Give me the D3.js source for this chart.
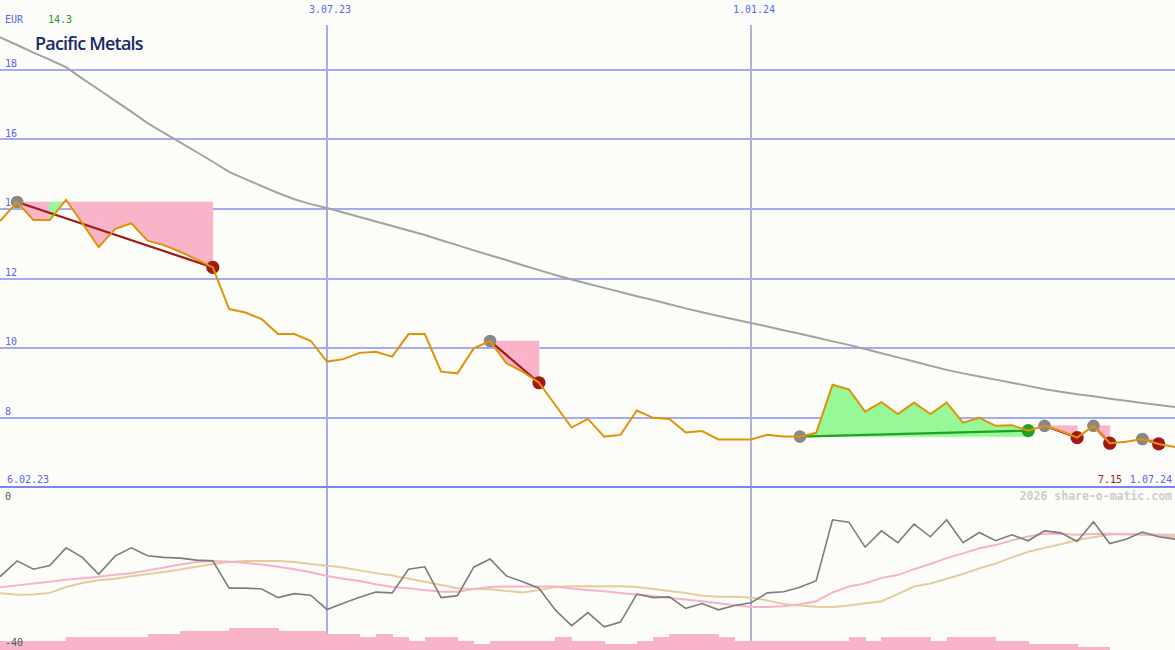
<!DOCTYPE html>
<html><head><meta charset="utf-8">
<script src="https://cdn.jsdelivr.net/npm/d3@7"></script>
<style>html,body{margin:0;padding:0;background:#fcfdf9;} svg{display:block}</style>
</head><body><svg id="c" width="1175" height="650"></svg>
<script>
// ---- data (weekly, first week 6.02.23) ----
const startDate = "2023-02-06";
const price = [13.5, 13.68, 14.2, 13.68, 13.68, 14.26, 13.59, 12.90, 13.42, 13.59,
  13.09, 12.96, 12.77, 12.55, 12.32, 11.12, 11.02, 10.83, 10.40, 10.40,
  10.21, 9.61, 9.68, 9.86, 9.89, 9.75, 10.40, 10.40, 9.32, 9.27,
  9.99, 10.20, 9.56, 9.32, 9.00, 8.36, 7.71, 7.96, 7.45, 7.50,
  8.20, 7.99, 7.96, 7.57, 7.61, 7.37, 7.37, 7.37, 7.50, 7.45,
  7.45, 7.56, 8.94, 8.81, 8.17, 8.44, 8.10, 8.43, 8.10, 8.43,
  7.85, 7.99, 7.76, 7.78, 7.62, 7.76, 7.61, 7.42, 7.76, 7.26,
  7.30, 7.38, 7.24, 7.15];
const ma200 = [19.2, 18.93, 18.72, 18.50, 18.30, 18.08, 17.75, 17.44, 17.12, 16.80,
  16.47, 16.19, 15.92, 15.64, 15.36, 15.07, 14.86, 14.66, 14.46, 14.28,
  14.14, 14.03, 13.90, 13.77, 13.64, 13.51, 13.38, 13.25, 13.10, 12.96,
  12.81, 12.67, 12.53, 12.38, 12.24, 12.10, 11.97, 11.85, 11.73, 11.61,
  11.49, 11.38, 11.26, 11.14, 11.03, 10.92, 10.82, 10.72, 10.62, 10.51,
  10.41, 10.30, 10.19, 10.09, 9.97, 9.85, 9.73, 9.61, 9.49, 9.37,
  9.27, 9.18, 9.09, 9.00, 8.91, 8.81, 8.74, 8.67, 8.61, 8.54,
  8.48, 8.42, 8.36, 8.30];
const osc = [-23.0, -22.0, -18.2, -20.3, -19.4, -14.9, -17.3, -21.6, -17.0, -14.9,
  -16.9, -17.3, -17.5, -18.0, -18.2, -25.1, -25.1, -25.3, -27.5, -26.5,
  -26.9, -30.5, -28.9, -27.4, -26.1, -26.3, -20.3, -19.7, -27.5, -27.0,
  -19.8, -17.7, -22.0, -23.5, -25.1, -30.6, -34.6, -31.3, -34.9, -33.7,
  -26.6, -27.5, -27.3, -30.2, -29.0, -30.6, -29.5, -28.8, -26.3, -26.0,
  -24.9, -23.2, -7.8, -8.4, -14.7, -10.6, -13.6, -8.9, -12.1, -7.8,
  -13.6, -11.0, -13.1, -11.6, -13.1, -10.6, -11.1, -13.3, -8.3, -13.8,
  -12.7, -10.9, -12.1, -12.7];
const oscPink = [-25.3, -24.9, -24.4, -23.9, -23.5, -23.0, -22.6, -22.2, -21.7, -21.3,
  -20.6, -19.9, -19.1, -18.5, -18.2, -18.4, -18.7, -19.1, -19.7, -20.3,
  -21.1, -22.0, -22.7, -23.3, -24.1, -24.8, -25.1, -25.6, -26.0, -26.0,
  -25.3, -24.8, -24.7, -24.7, -24.7, -24.7, -25.2, -25.6, -25.9, -26.3,
  -26.7, -27.1, -27.6, -28.0, -28.4, -28.9, -29.4, -29.9, -29.9, -29.7,
  -29.2, -28.4, -26.2, -24.7, -23.9, -22.5, -21.8, -20.3, -19.0, -17.5,
  -16.3, -15.0, -14.2, -13.0, -12.0, -11.3, -11.4, -11.6, -11.4, -11.3,
  -11.5, -11.6, -11.8, -12.1];
const oscTan = [-26.3, -26.4, -26.8, -26.7, -26.3, -24.8, -23.8, -23.1, -22.7, -22.1,
  -21.5, -21.0, -20.4, -19.7, -19.0, -18.5, -18.2, -18.2, -18.2, -18.5,
  -19.0, -19.4, -19.9, -20.6, -21.3, -21.9, -22.7, -23.5, -24.3, -25.1,
  -25.3, -25.4, -25.8, -26.2, -25.6, -24.8, -24.6, -24.6, -24.6, -24.6,
  -24.8, -25.3, -25.8, -26.3, -27.0, -27.3, -27.3, -27.5, -28.2, -29.1,
  -29.5, -29.8, -29.9, -29.5, -28.9, -28.4, -26.6, -24.7, -23.9, -22.7,
  -21.5, -20.1, -18.9, -17.3, -15.9, -14.9, -14.0, -12.9, -12.2, -11.5,
  -11.4, -11.4, -11.5, -11.6];
const volume = [3,3,3,3,3, 4,4,4,4,4, 5,5, 6,6,6, 7,7,7, 6,6,6, 5,5, 4, 5, 4, 3, 4,4, 3, 2,
  3,3,3,3, 4, 3,3, 2,2, 3, 4, 5,5,5, 4, 3,3,3,3,3,3,3, 4, 3, 4,4,4, 3, 4,4,4, 3,3,
  2,2,2, 1,1, 0,0,0,0];
const tradeEntry = [2, 31, 50, 65, 68, 71];
const tradeExit  = [14, 34, 64, 67, 69, 72];
const priceTicks = [8, 10, 12, 14, 16, 18];
const dateTickDates  = ["2023-07-03", "2024-01-01"];
const dateTickLabels = ["3.07.23", "1.01.24"];
const title = "Pacific Metals";
const currency = "EUR";
const firstPriceLabel = "14.3";
const lastPriceLabel = "7.15";
const startLabel = "6.02.23";
const endLabel = "1.07.24";
const endDate = "2024-07-01";
const oscTicks = [0, -40];

// ---- setup ----
const svg = d3.select("#c");
const W = 1175, H = 650;
const parse = d3.utcParse("%Y-%m-%d");
const t0 = parse(startDate);
const dates = price.map((_, i) => d3.utcDay.offset(t0, 7 * i));
const x = d3.scaleUtc().domain([t0, parse(endDate)]).range([-15.5, 1175]);
const y = d3.scaleLinear().domain([6, 18]).range([487, 70]);
const yO = d3.scaleLinear().domain([-40, 0]).range([647, 489]);
const yV = d3.scaleLinear().domain([0, 7]).range([650, 628]);
const mono = "'DejaVu Sans Mono', monospace";
const blue = "#5566ee";

svg.append("rect").attr("width", W).attr("height", H).attr("fill", "#fcfdf9");

// horizontal grid
svg.append("g").selectAll("line").data(priceTicks).join("line")
  .attr("x1", 0).attr("x2", W).attr("y1", d => Math.round(y(d))).attr("y2", d => Math.round(y(d)))
  .attr("stroke", "#a3acf2").attr("stroke-width", 2).attr("shape-rendering", "crispEdges");
svg.append("g").selectAll("text").data(priceTicks).join("text")
  .attr("x", 5).attr("y", d => y(d) - 3).text(d => d)
  .attr("font-family", mono).attr("font-size", 10).attr("fill", blue);

// vertical date lines
dateTickDates.forEach((d, i) => {
  const xx = Math.round(x(parse(d)));
  svg.append("line").attr("x1", xx).attr("x2", xx).attr("y1", 25).attr("y2", 650)
    .attr("stroke", i === 0 ? "#a3acf2" : "#b0b2d0").attr("stroke-width", i === 0 ? 2 : 1.2)
    .attr("shape-rendering", "crispEdges");
  svg.append("text").attr("x", xx + 3).attr("y", 13).attr("text-anchor", "middle")
    .attr("font-family", mono).attr("font-size", 10).attr("fill", blue).text(dateTickLabels[i]);
});

// bottom separator
svg.append("line").attr("x1", 0).attr("x2", W).attr("y1", y(6)).attr("y2", y(6))
  .attr("stroke", "#7a86ee").attr("stroke-width", 2).attr("shape-rendering", "crispEdges");

// trade fills
tradeEntry.forEach((e, k) => {
  const xEnd = tradeExit[k];
  const lvl = price[e];
  for (let i = e; i < xEnd; i++) {
    const win = price[i + 1] > lvl;
    const pts = [[x(dates[i]), y(lvl)], [x(dates[i]), y(price[i])], [x(dates[i + 1]), y(price[i + 1])], [x(dates[i + 1]), y(lvl)]];
    svg.append("path").attr("d", d3.line()(pts) + "Z")
      .attr("fill", win ? "#96f896" : "#f9b4c9").attr("stroke", win ? "#96f896" : "#f9b4c9").attr("stroke-width", 0.6);
  }
});

// long moving average
svg.append("path").datum(ma200)
  .attr("d", d3.line().x((d, i) => x(dates[i])).y(d => y(d)))
  .attr("fill", "none").attr("stroke", "#a2a2a2").attr("stroke-width", 2);

// trade lines and markers
tradeEntry.forEach((e, k) => {
  const xEnd = tradeExit[k];
  const win = price[xEnd] > price[e];
  svg.append("line").attr("x1", x(dates[e])).attr("y1", y(price[e]))
    .attr("x2", x(dates[xEnd])).attr("y2", y(price[xEnd]))
    .attr("stroke", win ? "#22a022" : "#a01818").attr("stroke-width", 2.2);
});
tradeEntry.forEach((e, k) => {
  const xEnd = tradeExit[k];
  const win = price[xEnd] > price[e];
  svg.append("circle").attr("cx", x(dates[e])).attr("cy", y(price[e])).attr("r", 6.3).attr("fill", "#888888");
  svg.append("circle").attr("cx", x(dates[xEnd])).attr("cy", y(price[xEnd])).attr("r", 6.6)
    .attr("fill", win ? "#22a022" : "#a01818");
});

// price line
svg.append("path").datum(price)
  .attr("d", d3.line().x((d, i) => x(dates[i])).y(d => y(d)))
  .attr("fill", "none").attr("stroke", "#e09208").attr("stroke-width", 2);

// lower panel
const lineO = d3.line().x((d, i) => x(dates[i])).y(d => yO(d));
svg.append("path").datum(oscTan).attr("d", lineO).attr("fill", "none").attr("stroke", "#e4cc9c").attr("stroke-width", 2);
svg.append("path").datum(oscPink).attr("d", lineO).attr("fill", "none").attr("stroke", "#f8b2c8").attr("stroke-width", 2);
svg.append("path").datum(osc).attr("d", lineO).attr("fill", "none").attr("stroke", "#7c7c7c").attr("stroke-width", 1.6);

// volume bars
svg.append("g").selectAll("rect").data(volume).join("rect")
  .attr("x", (d, i) => x(dates[i])).attr("width", (d, i) => x(dates[i + 1]) - x(dates[i]) + 0.5)
  .attr("y", d => yV(d)).attr("height", d => yV(0) - yV(d))
  .attr("fill", "#f9b4c9").attr("shape-rendering", "crispEdges");

// texts
svg.append("text").attr("x", 5).attr("y", 23).text(currency)
  .attr("font-family", mono).attr("font-size", 10).attr("fill", blue);
svg.append("text").attr("x", 48).attr("y", 23).text(firstPriceLabel)
  .attr("font-family", mono).attr("font-size", 10).attr("fill", "#229922");
svg.append("text").attr("x", 35).attr("y", 50).text(title)
  .attr("font-family", "'Open Sans', sans-serif").attr("font-size", 18).attr("font-weight", 600)
  .attr("letter-spacing", -0.8).attr("fill", "#17296a");
svg.append("text").attr("x", 7).attr("y", 483).text(startLabel)
  .attr("font-family", mono).attr("font-size", 10).attr("fill", blue);
svg.append("text").attr("x", 1172).attr("y", 483).attr("text-anchor", "end").text(endLabel)
  .attr("font-family", mono).attr("font-size", 10).attr("fill", blue);
svg.append("text").attr("x", 1122).attr("y", 483).attr("text-anchor", "end").text(lastPriceLabel)
  .attr("font-family", mono).attr("font-size", 10).attr("fill", "#a01818");
svg.append("text").attr("x", 1172).attr("y", 500).attr("text-anchor", "end").text("2026 share-o-matic.com")
  .attr("font-family", mono).attr("font-size", 11.5).attr("font-weight", "bold").attr("fill", "#cccccc");
svg.append("text").attr("x", 5).attr("y", 500).text(oscTicks[0])
  .attr("font-family", mono).attr("font-size", 10).attr("fill", "#555");
svg.append("text").attr("x", 5).attr("y", 646).text(oscTicks[1])
  .attr("font-family", mono).attr("font-size", 10).attr("fill", "#555");
</script></body></html>
